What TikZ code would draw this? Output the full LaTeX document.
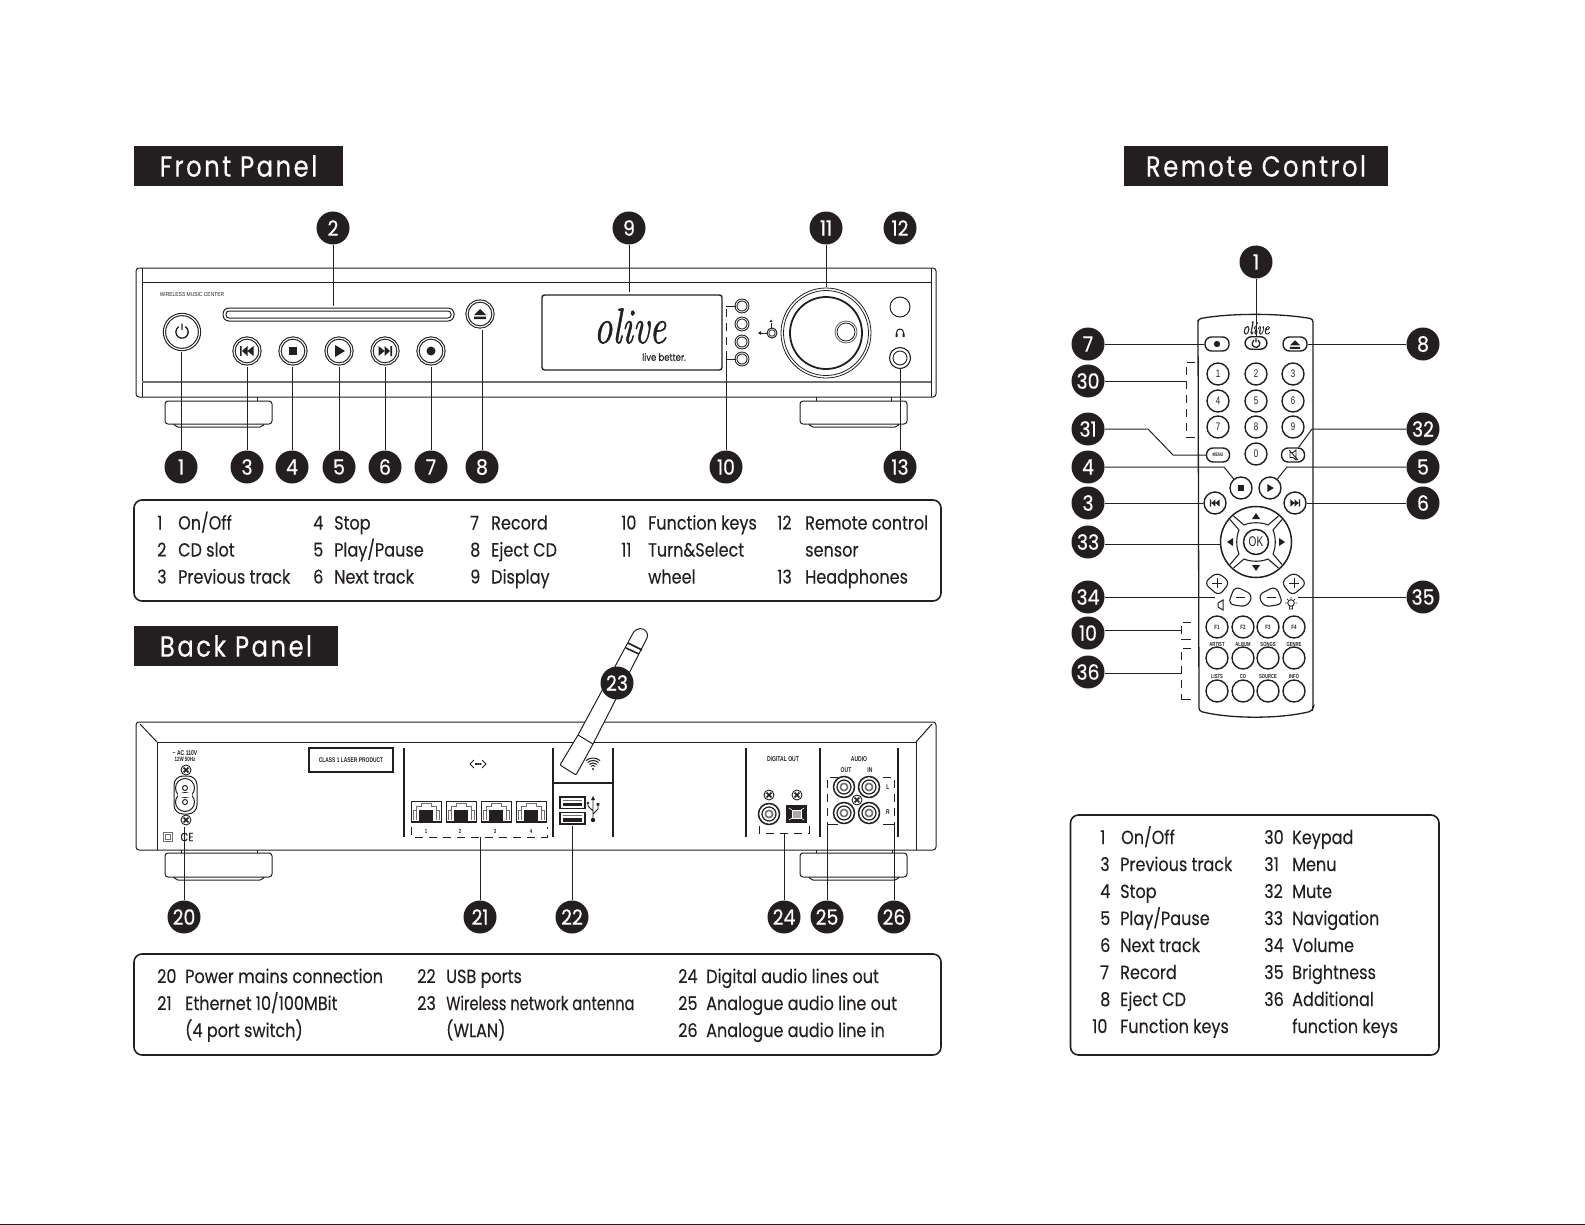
\documentclass[tikz,border=0pt]{standalone}
\usepackage{fontspec}
\usetikzlibrary{calc}
\newfontfamily\bodyfam[FakeStretch=0.845,FakeBold=0.2]{Poppins}
\newfontfamily\titlefam[FakeStretch=0.84,LetterSpace=8.5,FakeBold=0.3]{Poppins}
\newfontfamily\numfam[FakeStretch=0.9,FakeBold=0.5]{Poppins}
\newfontfamily\tinyfam[FakeStretch=0.85]{Liberation Sans}
\newfontfamily\narrowfam[FakeStretch=0.72]{Liberation Sans}
\newfontfamily\logofam{Latin Modern Roman}[ItalicFeatures={FakeBold=1.2}]
\definecolor{ink}{HTML}{231F20}
\definecolor{mid}{HTML}{6F6F6F}
\tikzset{
  lead/.style={draw=ink,line width=1pt},
  num/.style={circle,fill=ink,text=white,minimum size=33pt,inner sep=0pt,font=\numfam\fontsize{21}{21}\selectfont},
  titlebox/.style={fill=ink,text=white,minimum height=40pt,inner sep=0pt,font=\titlefam\fontsize{29}{29}\selectfont},
  infobox/.style={draw=ink,line width=1.6pt,rounded corners=8pt},
  txt/.style={anchor=base west,inner sep=0pt,text=ink,font=\bodyfam\fontsize{19}{19}\selectfont},
  tiny/.style={inner sep=0pt,text=ink,font=\tinyfam\fontsize{5.8}{5.8}\selectfont},
  tinyb/.style={inner sep=0pt,text=ink,font=\narrowfam\bfseries\fontsize{7}{7}\selectfont},
  hw/.style={draw=ink,line width=1pt},
  hwm/.style={draw=ink,line width=1.4pt},
  grayl/.style={draw=mid,line width=1.6pt},
  brk/.style={draw=ink,line width=1pt,dash pattern=on 8pt off 6pt},
  fbtn/.style={circle,draw=ink,line width=1.1pt,fill=white,inner sep=0pt,minimum size=26pt,double=white,double distance=1.1pt},
  rbtn/.style={circle,draw=ink,line width=1.4pt,fill=white,inner sep=0pt,minimum size=22pt,text=ink,font=\narrowfam\fontsize{11}{11}\selectfont},
  rstad/.style={rectangle,rounded corners=6.5pt,draw=ink,line width=1.4pt,fill=white,inner sep=0pt,minimum width=24pt,minimum height=14pt,text=ink,font=\narrowfam\bfseries\fontsize{5}{5}\selectfont},
  rlab/.style={anchor=base,inner sep=0pt,text=ink,font=\narrowfam\bfseries\fontsize{5.8}{5.8}\selectfont},
  pics/gplay/.style={code={\fill[ink] (-4,-6) -- (6,0) -- (-4,6) -- cycle;}},
  pics/gstop/.style={code={\fill[ink] (-4,-4) rectangle (4,4);}},
  pics/grec/.style={code={\fill[ink] (0,0) circle (4.5);}},
  pics/gprev/.style={code={\fill[ink] (-7,-5) rectangle (-5.3,5) (-5,0) -- (0.5,-5) -- (0.5,5) -- cycle (0.5,0) -- (6.5,-5) -- (6.5,5) -- cycle;}},
  pics/gnext/.style={code={\fill[ink] (7,-5) rectangle (5.3,5) (5,0) -- (-0.5,-5) -- (-0.5,5) -- cycle (-0.5,0) -- (-6.5,-5) -- (-6.5,5) -- cycle;}},
  pics/geject/.style={code={\fill[ink] (-6,1) -- (0,-5) -- (6,1) -- cycle (-6,2.7) rectangle (6,5);}},
  pics/gpower/.style={code={\draw[ink,line width=1.3pt,line cap=round] (3.4,-5.2) arc (-57:237:6.2) (0,-8) -- (0,-2.5);}},
  pics/screw/.style={code={
    \draw[ink,line width=.9pt,fill=white] (0,0) circle (5);
    \fill[ink,rotate=45] (-3.4,-.8) rectangle (3.4,.8) (-.8,-3.4) rectangle (.8,3.4);}},
  pics/rca/.style={code={
    \draw[ink,line width=1.5pt,fill=white] (0,0) circle (10.5);
    \draw[ink,line width=1.2pt] (0,0) circle (7);
    \draw[mid,line width=1.6pt] (0,0) circle (3.6);}},
  pics/rj/.style={code={
    \draw[ink,line width=1pt,fill=white] (0,0) rectangle (30,21);
    \draw[mid,line width=.7pt] (2,19) -- (2,9) -- (5,9) -- (5,5) -- (10,5) -- (10,2.5) -- (20,2.5) -- (20,5) -- (25,5) -- (25,9) -- (28,9) -- (28,19);
    \draw[mid,line width=.7pt] (5,9) -- (5,19) (25,9) -- (25,19);
    \fill[ink] (8,9) rectangle (22,20);
    \draw[ink,line width=1.6pt] (0,20.5) -- (30,20.5);}},
  pics/usb/.style={code={
    \draw[ink,line width=1.2pt,fill=white] (0,0) rectangle (25,11.5);
    \fill[ink] (3,5.5) rectangle (22,9);
    \draw[mid,line width=.7pt] (3,3) -- (22,3);}},
}
\begin{document}
\begin{tikzpicture}[x=1pt,y=-1pt]
\useasboundingbox (0,0) rectangle (1585,1225);
\fill[ink] (0,1224) rectangle (1585,1225);
%% ---------- titles
\node[titlebox,minimum width=209pt] (tfront) at (238.5,166) {\raisebox{-2pt}{Front Panel}};
\node[titlebox,minimum width=204pt] (tback) at (236,646) {\raisebox{-2pt}{Back Panel}};
\node[titlebox,minimum width=264pt] (tremote) at (1256,166) {\raisebox{-1pt}{Remote Control}};
%% ---------- front panel body
\draw[hw,rounded corners=3pt] (136,268) rectangle (936,397);
\draw[hw] (142,268) -- (142,397) (931,268) -- (931,397);
\draw[hw] (142,282) -- (931,282);
\draw[grayl] (142,382) -- (931,382);
\draw[hw] (257,397) -- (257,401) (816,397) -- (816,401) (891,397) -- (891,401);
\draw[hw,rounded corners=3pt] (165,401) rectangle (272,424);
\draw[hw,rounded corners=2pt] (174,424) -- (176,427) -- (262,427) -- (264,424);
\draw[hw,rounded corners=3pt] (800,401) rectangle (907,424);
\draw[hw,rounded corners=2pt] (809,424) -- (811,427) -- (897,427) -- (899,424);
\node[tiny] (wmc) at (192,295) {WIRELESS MUSIC CENTER};
\draw[hw,rounded corners=6pt] (223,308) rectangle (454,321);
\draw[hw,rounded corners=3pt] (226,311) rectangle (451,318);
\node[fbtn,minimum size=35pt] (bpower) at (182,332) {};
\path (182,332) pic {gpower};
\foreach \nm/\x/\g in {bprev/247/gprev,bstop/293/gstop,bplay/339/gplay,bnext/385/gnext,brec/431/grec}{
  \node[fbtn] (\nm) at (\x,351) {};
  \path (\x,351) pic {\g};
}
\node[fbtn] (beject) at (480,314) {};
\path (480,314) pic {geject};
%% display
\node[draw=ink,line width=1.4pt,rounded corners=2.5pt,minimum width=180pt,minimum height=75pt,inner sep=0pt] (display) at (632,332.5) {};
\node[inner sep=0pt,text=ink,font=\logofam\itshape\fontsize{37}{37}\selectfont] (logo) at (630,326) {\scalebox{1}[1.35]{olive}};
\node[inner sep=0pt,text=ink,font=\bodyfam\fontsize{10}{10}\selectfont] (lb) at (664,357) {live better.};
%% function keys
\foreach \nm/\y in {fa/306,fb/324,fc/342,fd/359}{
  \node[circle,draw=ink,line width=1pt,double=white,double distance=.8pt,fill=white,minimum size=12pt,inner sep=0pt] (\nm) at (742,\y) {};
}
\coordinate (fbrt) at (726,306);
\coordinate (fbrb) at (726,359);
\draw[brk] (fbrb) -- (fbrt);
\draw[hw] (fbrt) -- (fa);
\draw[hw] (fbrb) -- (fd);
%% wheel
\draw[ink,line width=.8pt] (826,333) circle (45);
\draw[ink,line width=.8pt] (826,333) circle (42.5);
\draw[ink,line width=1.8pt] (826,333) circle (36);
\draw[mid,line width=.9pt] (846,332) circle (11);
\draw[ink,line width=.8pt] (846,332) circle (9);
\draw[ink,line width=1pt] (772,333) circle (5);
\draw[ink,line width=.7pt] (772,333) circle (3.2);
\draw[ink,line width=.8pt] (761,333) -- (767,333) (771,322.5) -- (771,328);
\fill[ink] (758,333) -- (761,331) -- (761,335) -- cycle (769.5,322) -- (771,319.5) -- (772.5,322) -- cycle;
\node[circle,draw=ink,line width=1pt,minimum size=20pt,inner sep=0pt] (sensor) at (900,307) {};
\draw[ink,line width=1pt] (896.5,335.5) -- (896.5,332.5) arc (180:360:3.5) -- (903.5,335.5);
\fill[ink] (895.5,333.5) rectangle (897.5,337) (902.5,333.5) rectangle (904.5,337);
\node[circle,draw=ink,line width=1.1pt,minimum size=21pt,inner sep=0pt] (jack) at (900,358) {};
\draw[ink,line width=.9pt] (900,358) circle (7);
%% callouts front
\foreach \nm/\x/\t in {nf1/181/1,nf3/247/3,nf4/292/4,nf5/339/5,nf6/385/6,nf7/431/7,nf8/482/8,nf10/726/10,nf13/900/13}{
  \node[num] (\nm) at (\x,467) {\t};
}
\foreach \nm/\x/\t in {nf2/333/2,nf9/629/9,nf11/826/11,nf12/900/12}{
  \node[num] (\nm) at (\x,228) {\t};
}
\foreach \nm/\x/\y in {1/181/352,3/247/367,4/292/367,5/339/367,6/385/367,7/431/367,8/482/330,10/726/359,13/900/369}{
  \coordinate (e\nm) at (\x,\y);
  \draw[lead] (nf\nm) -- (e\nm);
}
\foreach \nm/\x/\y in {2/333/306,9/629/292,11/826/287}{
  \coordinate (e\nm) at (\x,\y);
  \draw[lead] (nf\nm) -- (e\nm);
}
%% info front
\draw[infobox] (134,500) rectangle (941,601);
\foreach \x/\y/\t [count=\i] in {
 157/529.5/1,178/529.5/{On/Off},157/556.5/2,178/556.5/{CD slot},157/583.5/3,178/583.5/{Previous track},
 313/529.5/4,334/529.5/Stop,313/556.5/5,334/556.5/{Play/Pause},313/583.5/6,334/583.5/{Next track},
 470/529.5/7,491/529.5/Record,470/556.5/8,491/556.5/{Eject CD},470/583.5/9,491/583.5/Display,
 621/529.5/10,648/529.5/{Function keys},621/556.5/11,648/556.5/{Turn\&Select},648/583.5/wheel,
 777/529.5/12,805/529.5/{Remote control},805/556.5/sensor,777/583.5/13,805/583.5/Headphones}{
  \node[txt,name=ft\i] at (\x,\y) {\t};
}
%% ---------- back panel body
\draw[hw,rounded corners=3pt] (136,722) rectangle (936,850);
\draw[hw] (157,742) -- (916,742) (157,742) -- (157,850) (916,742) -- (916,850);
\draw[hw] (157,742) -- (140,724) (916,742) -- (932,724);
\draw[hw] (181,850) -- (181,853) (257,850) -- (257,853) (816,850) -- (816,853) (892,850) -- (892,853);
\draw[hw,rounded corners=3pt] (165,853) rectangle (272,877);
\draw[hw,rounded corners=2pt] (174,877) -- (176,880) -- (262,880) -- (264,877);
\draw[hw,rounded corners=3pt] (800,853) rectangle (907,877);
\draw[hw,rounded corners=2pt] (809,877) -- (811,880) -- (897,880) -- (899,877);
%% dividers
\draw[hwm] (404,748) -- (404,837) (553,748) -- (553,837) (613,748) -- (613,837) (553,783) -- (613,783)
           (746,748) -- (746,837) (820,748) -- (820,837) (898,748) -- (898,837);
%% power
\node[inner sep=0pt,text=ink,font=\narrowfam\bfseries\fontsize{7}{7}\selectfont] (ac) at (185,753) {\textasciitilde\ AC 110V};
\node[inner sep=0pt,text=ink,font=\narrowfam\bfseries\fontsize{6.2}{6.2}\selectfont] (wh) at (185,759.5) {12W 50Hz};
\path (186,770) pic {screw} (186,820) pic {screw};
\draw[hw,rounded corners=9pt] (174,776) rectangle (197,814);
\draw[hw,fill=white] (185,788) circle (9.5) (185,802) circle (9.5);
\fill[white] (178,793) rectangle (192,797);
\draw[hw] (185,788) circle (2.5) (185,802) circle (2.5);
\draw[mid,line width=.6pt] (163.5,832.5) rectangle (172.5,841.5) (165.5,834.5) rectangle (170.5,839.5);
\node[inner sep=0pt,text=ink,font=\bodyfam\fontsize{12}{12}\selectfont] (ce) at (187,837) {CE};
\node[draw=ink,line width=1.2pt,minimum width=84pt,minimum height=24pt,inner sep=0pt,text=ink,font=\narrowfam\bfseries\fontsize{6.8}{6.8}\selectfont] (laser) at (351,760) {CLASS 1 LASER PRODUCT};
%% ethernet
\draw[ink,line width=1pt] (474,760) -- (470,764) -- (474,768) (482,760) -- (486,764) -- (482,768);
\fill[ink] (475,763.2) rectangle (476.8,764.8) (477.3,763.2) rectangle (479.1,764.8) (479.6,763.2) rectangle (481.4,764.8);
\foreach \x in {411,446,481,516}{ \path (\x,801) pic {rj}; }
\foreach \x/\t/\nm in {426/1/ea,460/2/eb,495/3/ec,531/4/ed}{
  \node[tinyb,font=\narrowfam\bfseries\fontsize{6}{6}\selectfont] (\nm) at (\x,831) {\t};
}
\coordinate (ebl) at (411,827);
\coordinate (ebr) at (547,827);
\coordinate (ebm) at (480,837);
\draw[brk] (ebl) -- (411,837) -- (547,837) -- (ebr);
%% antenna
\draw[hw,fill=white,rounded corners=1pt] (632,635) .. controls (636,627) and (644,627) .. (647,633) .. controls (648,636) and (647,638) .. (646,640)
   -- (593,744) -- (576,775) -- (560,765) -- (578,735) -- cycle;
\draw[hw] (578,735) -- (593,744);
\draw[hw,line width=1.6pt] (628,643) -- (642,650) (626,648) -- (639,654);
%% wifi
\foreach \r in {3.5,6,8.5,11}{ \draw[ink,line width=1pt] (593,769) ++(-130:\r) arc (-130:-50:\r); }
\fill[ink] (593,769) circle (1.2);
%% usb
\path (560,797) pic {usb} (560,812.5) pic {usb};
\draw[ink,line width=.9pt] (593,799) -- (593,820) (593,811) -- (588,806) -- (588,803) (593,814) -- (598,809) -- (598,805);
\fill[ink] (593,796) -- (595,800) -- (591,800) -- cycle (593,820) circle (2.2) (588,803) circle (1.3) (596.7,803) rectangle (599.3,805.5);
%% digital
\node[tinyb] (dout) at (783,759) {DIGITAL OUT};
\path (769,795) pic {screw} (797,795) pic {screw} (769,814) pic {rca};
\draw[ink,line width=1.3pt,fill=mid!40] (787,806) rectangle (806,822);
\fill[ink] (788,807) rectangle (805,821);
\draw[white,line width=1pt,fill=mid!60] (792,810) rectangle (801,818);
\draw[white,line width=.6pt] (789,808) -- (792,810) (804,808) -- (801,810) (789,820) -- (792,818) (804,820) -- (801,818);
\coordinate (dbm) at (784,833);
\draw[brk] (759,826) -- (759,833) -- (809,833) -- (809,826);
%% audio
\node[tinyb] (aud) at (859,759) {AUDIO};
\node[tinyb] (aout) at (846,770) {OUT};
\node[tinyb] (ain) at (870,770) {IN};
\node[tinyb] (al) at (888,787) {L};
\node[tinyb] (ar) at (888,812) {R};
\path (844,787) pic {rca} (869,787) pic {rca} (844,813) pic {rca} (869,813) pic {rca} (857,800) pic {screw};
\coordinate (a5b) at (827,824);
\coordinate (a6b) at (894,824);
\draw[brk] (838,777) -- (827,777) -- (a5b);
\draw[brk] (883,777) -- (894,777) -- (a6b);
\draw[hw] (a5b) -- (838,824) (a6b) -- (883,824);
%% callouts back
\node[num] (nb20) at (184,917) {20};
\node[num] (nb21) at (480,917) {21};
\node[num] (nb22) at (572,917) {22};
\node[num] (nb23) at (617,683) {23};
\node[num] (nb24) at (784,917) {24};
\node[num] (nb25) at (827,917) {25};
\node[num] (nb26) at (894,917) {26};
\coordinate (e20) at (184,827);
\coordinate (e22) at (572,826);
\draw[lead] (nb20) -- (e20);
\draw[lead] (nb21) -- (ebm);
\draw[lead] (nb22) -- (e22);
\draw[lead] (nb24) -- (dbm);
\draw[lead] (nb25) -- (a5b);
\draw[lead] (nb26) -- (a6b);
%% info back
\draw[infobox] (134,954) rectangle (941,1055);
\foreach \x/\y/\t [count=\i] in {
 157/983/20,185/983/{Power mains connection},157/1010/21,185/1010/{Ethernet 10/100MBit},185/1037/{(4 port switch)},
 417/983/22,446/983/{USB ports},417/1010/23,446/1010/{\scalebox{.91}[1]{Wireless network antenna}},446/1037/{(WLAN)},
 678/983/24,706/983/{Digital audio lines out},678/1010/25,706/1010/{Analogue audio line out},678/1037/26,706/1037/{Analogue audio line in}}{
  \node[txt,name=bt\i] at (\x,\y) {\t};
}
%% ---------- remote
\draw[ink,line width=1.3pt,rounded corners=3pt] (1198,323) -- (1198,319) .. controls (1230,313) and (1280,313) .. (1313,319) -- (1313,708) -- (1312,711) .. controls (1280,719) and (1230,719) .. (1199,711) -- cycle;
\node[inner sep=0pt,text=ink,font=\logofam\itshape\fontsize{14}{14}\selectfont] (rlogo) at (1256,328) {\scalebox{1}[1.3]{olive}};
\node[rstad] (rrec) at (1217,344) {};
\path (1217,344) pic[scale=.7] {grec};
\node[rstad,minimum width=22pt,minimum height=12.5pt] (rpow) at (1256,343) {};
\path (1256,343.5) pic[scale=.62] {gpower};
\node[rstad] (rej) at (1295,344) {};
\path (1295,344.5) pic[scale=.85] {geject};
\foreach \nm/\x/\y/\t in {ra/1218/374/1,rb/1256/374/2,rc/1293/374/3,rd/1218/401/4,re/1256/401/5,rf/1293/401/6,rg/1218/427/7,rh/1256/427/8,ri/1293/427/9,rj0/1256/454/0}{
  \node[rbtn] (\nm) at (\x,\y) {\t};
}
\node[rstad,minimum width=23pt] (rmenu) at (1218,455) {MENU};
\node[rstad,minimum width=23pt] (rmute) at (1293,455) {};
\draw[ink,line width=.9pt] (1290,452.5) -- (1293,452.5) -- (1296,450) -- (1296,460) -- (1293,457.5) -- (1290,457.5) -- cycle (1289,450) -- (1298,460);
\node[rbtn] (rstop) at (1241,488) {};
\path (1241,488) pic[scale=.72] {gstop};
\node[rbtn] (rplay) at (1270,488) {};
\path (1270,488) pic[scale=.65] {gplay};
\node[rbtn] (rprev) at (1215,503) {};
\path (1215,503) pic[scale=.72] {gprev};
\node[rbtn] (rnext) at (1295,503) {};
\path (1295,503) pic[scale=.72] {gnext};
%% navigation
\draw[ink,line width=1.5pt] (1256,542) circle (35.5);
\foreach \a in {0,90,180,270}{
  \begin{scope}[shift={(1256,542)},rotate=\a]
    \draw[ink,line width=1.1pt,line join=round] (-22.5,-26) -- (-12,-17) .. controls (-5,-20) and (5,-20) .. (12,-17) -- (22.5,-26);
    \fill[ink] (-4,-23) -- (0,-29) -- (4,-23) -- cycle;
  \end{scope}
}
\node[circle,draw=ink,line width=1.5pt,minimum size=25pt,inner sep=0pt,text=ink,font=\narrowfam\fontsize{14}{14}\selectfont] (rok) at (1256,542) {OK};
%% vol / brightness
\draw[ink,line width=1.1pt,rounded corners=6pt] (1204,583) -- (1217,572) -- (1230,582) -- (1219,596) -- cycle;
\draw[ink,line width=1.1pt,rounded corners=6pt] (1228,604) -- (1235,586) -- (1253,595) -- (1247,607) -- cycle;
\draw[ink,line width=1.1pt,rounded corners=6pt] (1307,583) -- (1294,572) -- (1281,582) -- (1292,596) -- cycle;
\draw[ink,line width=1.1pt,rounded corners=6pt] (1283,604) -- (1276,586) -- (1258,595) -- (1264,607) -- cycle;
\draw[ink,line width=.9pt] (1212,583) -- (1222,583) (1217,578) -- (1217,588) (1299,583) -- (1289,583) (1294,578) -- (1294,588) (1236,597) -- (1245,597) (1267,597) -- (1276,597);
\draw[ink,line width=1pt] (1223,600) -- (1223,610) -- (1218,607) -- (1218,603) -- cycle;
\draw[ink,line width=.9pt] (1291,603) circle (3.3) (1289.5,606.5) -- (1289.5,609) -- (1292.5,609) -- (1292.5,606.5);
\draw[ink,line width=.7pt] (1285,603) -- (1286.5,603) (1295.5,603) -- (1297,603) (1291,597) -- (1291,598.5) (1287,599) -- (1288,600) (1295,599) -- (1294,600);
%% F and function keys
\foreach \x/\t/\nm in {1217/F1/rfa,1243/F2/rfb,1268/F3/rfc,1294/F4/rfd}{
  \node[rbtn,font=\narrowfam\bfseries\fontsize{6.2}{6.2}\selectfont] (\nm) at (\x,627) {\t};
}
\foreach \x/\t/\nm in {1217/ARTIST/ga,1243/ALBUM/gb,1268/SONGS/gc,1294/GENRE/gd}{
  \node[rlab] (l\nm) at (\x,646) {\t};
  \node[rbtn] (\nm) at (\x,658) {};
}
\foreach \x/\t/\nm in {1217/LISTS/ha,1243/CD/hb,1268/SOURCE/hc,1294/INFO/hd}{
  \node[rlab] (l\nm) at (\x,678) {\t};
  \node[rbtn] (\nm) at (\x,691) {};
}
%% callouts remote
\foreach \nm/\y/\t in {nr7/344/7,nr30/381/30,nr31/429/31,nr4/467/4,nr3/503/3,nr33/542/33,nr34/597/34,nr10/633/10,nr36/672/36}{
  \node[num] (\nm) at (1088,\y) {\t};
}
\foreach \nm/\y/\t in {nr8/344/8,nr32/429/32,nr5/467/5,nr6/503/6,nr35/597/35}{
  \node[num] (\nm) at (1423,\y) {\t};
}
\node[num] (nr1) at (1256,262) {1};
\coordinate (r1e) at (1256,336);
\draw[lead] (nr1) -- (r1e);
\draw[lead] (nr7) -- (rrec);
\draw[lead] (nr8) -- (rej);
\coordinate (r30) at (1186,381);
\draw[lead] (nr30.east |- r30) -- (r30);
\draw[brk] (1195,362) -- (1186,362) -- (1186,437);
\draw[hw] (1186,437) -- (1195,437);
\draw[lead] (nr31.east) -- (1148,429) -- (1173,455) -- (rmenu.west);
\draw[lead] (nr32.west) -- (1312,429) -- (rmute);
\draw[lead] (nr4.east) -- (1224,467) -- (rstop);
\draw[lead] (nr5.west) -- (1287,467) -- (rplay);
\draw[lead] (nr3) -- (rprev);
\draw[lead] (nr6) -- (rnext);
\coordinate (r33) at (1220,544);
\draw[lead] (nr33.east |- r33) -- (r33);
\coordinate (r34) at (1215,597);
\coordinate (r35) at (1298,597);
\draw[lead] (nr34) -- (r34);
\draw[lead] (nr35) -- (r35);
\coordinate (r10) at (1181,630);
\coordinate (r36) at (1181,673);
\draw[lead] (nr10.east |- r10) -- (r10);
\draw[lead] (nr36.east |- r36) -- (r36);
\draw[brk] (1191,622) -- (1181,622) -- (1181,639);
\draw[hw] (1181,639) -- (1191,639);
\draw[brk] (1191,648) -- (1181,648) -- (1181,699);
\draw[hw] (1181,699) -- (1191,699);
%% info remote
\draw[infobox] (1070.5,815) rectangle (1439,1055);
\foreach \x/\y/\t [count=\i] in {
 1100/844/1,1121/844/{On/Off},1100/871/3,1120/871/{Previous track},1100/898/4,1120/898/Stop,1100/925/5,1120/925/{Play/Pause},
 1100/952/6,1120/952/{Next track},1100/979/7,1120/979/Record,1100/1006/8,1120/1006/{Eject CD},1092/1033/10,1120/1033/{Function keys},
 1264/844/30,1292/844/Keypad,1264/871/31,1292/871/Menu,1264/898/32,1292/898/Mute,1264/925/33,1292/925/Navigation,
 1264/952/34,1292/952/Volume,1264/979/35,1292/979/Brightness,1264/1006/36,1292/1006/Additional,1292/1033/{function keys}}{
  \node[txt,name=rt\i] at (\x,\y) {\t};
}
\end{tikzpicture}
\end{document}
